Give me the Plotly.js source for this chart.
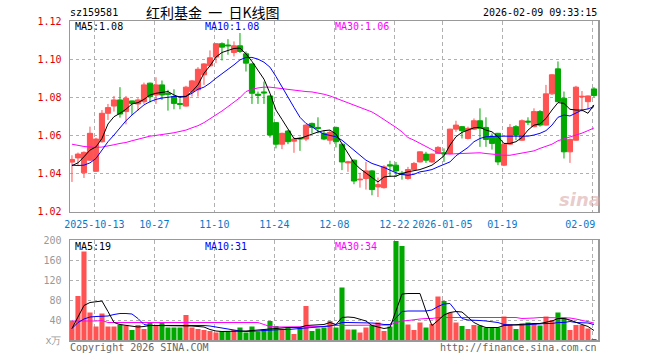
<!DOCTYPE html>
<html>
<head>
<meta charset="utf-8">
<script src="https://cdn.plot.ly/plotly-3.0.1.min.js"></script>
<style>html,body{margin:0;padding:0;background:#fff;}#chart{width:660px;height:360px;}</style>
</head>
<body>
<div id="chart"></div>
<script>
const dates = ['2025-09-29','2025-09-30','2025-10-09','2025-10-10','2025-10-13','2025-10-14','2025-10-15','2025-10-16','2025-10-17','2025-10-20',
'2025-10-21','2025-10-22','2025-10-23','2025-10-24','2025-10-27','2025-10-28','2025-10-29','2025-10-30','2025-10-31','2025-11-03',
'2025-11-04','2025-11-05','2025-11-06','2025-11-07','2025-11-10','2025-11-11','2025-11-12','2025-11-13','2025-11-14','2025-11-17',
'2025-11-18','2025-11-19','2025-11-20','2025-11-21','2025-11-24','2025-11-25','2025-11-26','2025-11-27','2025-11-28','2025-12-01',
'2025-12-02','2025-12-03','2025-12-04','2025-12-05','2025-12-08','2025-12-09','2025-12-10','2025-12-11','2025-12-12','2025-12-15',
'2025-12-16','2025-12-17','2025-12-18','2025-12-19','2025-12-22','2025-12-23','2025-12-24','2025-12-25','2025-12-26','2025-12-29',
'2025-12-30','2025-12-31','2026-01-05','2026-01-06','2026-01-07','2026-01-08','2026-01-09','2026-01-12','2026-01-13','2026-01-14',
'2026-01-15','2026-01-16','2026-01-19','2026-01-20','2026-01-21','2026-01-22','2026-01-23','2026-01-26','2026-01-27','2026-01-28',
'2026-01-29','2026-01-30','2026-02-02','2026-02-03','2026-02-04','2026-02-05','2026-02-06','2026-02-09'];

const open = [1.0460,1.0482,1.0404,1.0470,1.0412,1.0567,1.0716,1.0754,1.0786,1.0725,
1.0781,1.0765,1.0777,1.0874,1.0812,1.0865,1.0821,1.0804,1.0767,1.0754,
1.0830,1.0839,1.0918,1.0965,1.1011,1.1081,1.1074,1.1035,1.1070,1.1028,
1.0975,1.0816,1.0828,1.0807,1.0667,1.0554,1.0623,1.0570,1.0586,1.0581,
1.0663,1.0642,1.0611,1.0575,1.0642,1.0554,1.0456,1.0470,1.0367,1.0374,
1.0414,1.0330,1.0326,1.0446,1.0444,1.0402,1.0374,1.0421,1.0461,1.0502,
1.0461,1.0505,1.0509,1.0505,1.0633,1.0646,1.0584,1.0633,1.0677,1.0642,
1.0593,1.0611,1.0444,1.0554,1.0646,1.0575,1.0675,1.0646,1.0725,1.0654,
1.0818,1.0949,1.0795,1.0514,1.0575,1.0802,1.0777,1.0844];
const high = [1.0496,1.0510,1.0516,1.0646,1.0588,1.0733,1.0765,1.0807,1.0853,1.0807,
1.0782,1.0795,1.0877,1.0877,1.0905,1.0888,1.0839,1.0842,1.0795,1.0860,
1.0891,1.0958,1.0979,1.1046,1.1084,1.1088,1.1105,1.1093,1.1137,1.1040,
1.0979,1.0830,1.0882,1.0809,1.0669,1.0614,1.0628,1.0589,1.0593,1.0658,
1.0667,1.0695,1.0628,1.0628,1.0646,1.0556,1.0467,1.0474,1.0404,1.0461,
1.0418,1.0379,1.0444,1.0467,1.0461,1.0414,1.0435,1.0461,1.0516,1.0514,
1.0504,1.0544,1.0532,1.0635,1.0677,1.0648,1.0646,1.0689,1.0742,1.0695,
1.0611,1.0613,1.0558,1.0660,1.0654,1.0684,1.0695,1.0742,1.0733,1.0865,
1.0921,1.0988,1.0830,1.0584,1.0860,1.0833,1.0809,1.0853];
const low = [1.0356,1.0440,1.0377,1.0467,1.0409,1.0562,1.0681,1.0725,1.0693,1.0658,
1.0707,1.0730,1.0765,1.0772,1.0765,1.0786,1.0730,1.0737,1.0737,1.0751,
1.0804,1.0804,1.0865,1.0958,1.0979,1.0993,1.1023,1.1014,1.1032,1.0935,
1.0765,1.0765,1.0765,1.0589,1.0532,1.0528,1.0554,1.0509,1.0519,1.0570,
1.0611,1.0611,1.0575,1.0553,1.0537,1.0418,1.0409,1.0344,1.0326,1.0316,
1.0286,1.0277,1.0321,1.0382,1.0382,1.0368,1.0368,1.0418,1.0458,1.0456,
1.0456,1.0502,1.0461,1.0502,1.0619,1.0584,1.0579,1.0628,1.0540,1.0540,
1.0526,1.0444,1.0439,1.0549,1.0575,1.0572,1.0654,1.0642,1.0646,1.0651,
1.0812,1.0775,1.0479,1.0456,1.0573,1.0725,1.0737,1.0800];
const close = [1.0474,1.0502,1.0511,1.0611,1.0581,1.0716,1.0746,1.0786,1.0712,1.0795,
1.0768,1.0786,1.0865,1.0804,1.0865,1.0812,1.0816,1.0768,1.0763,1.0853,
1.0886,1.0947,1.0975,1.1007,1.1081,1.1063,1.1070,1.1070,1.1040,1.0979,
1.0821,1.0811,1.0823,1.0602,1.0554,1.0611,1.0567,1.0581,1.0582,1.0654,
1.0642,1.0637,1.0581,1.0616,1.0567,1.0461,1.0461,1.0361,1.0370,1.0414,
1.0316,1.0342,1.0435,1.0440,1.0414,1.0396,1.0421,1.0453,1.0514,1.0470,
1.0502,1.0537,1.0504,1.0633,1.0654,1.0625,1.0637,1.0677,1.0637,1.0579,
1.0558,1.0461,1.0554,1.0642,1.0602,1.0677,1.0670,1.0725,1.0654,1.0818,
1.0918,1.0777,1.0514,1.0579,1.0853,1.0805,1.0807,1.0809];

const ma5 = [1.0442,1.0456,1.0488,1.0523,1.0540,1.0584,1.0660,1.0698,1.0716,1.0737,
1.0765,1.0772,1.0789,1.0812,1.0821,1.0826,1.0830,1.0812,1.0800,1.0804,
1.0830,1.0865,1.0926,1.0965,1.1011,1.1035,1.1046,1.1056,1.1058,1.1028,
1.0988,1.0944,1.0895,1.0821,1.0733,1.0684,1.0632,1.0584,1.0584,1.0596,
1.0607,1.0618,1.0625,1.0628,1.0607,1.0558,1.0509,1.0456,1.0426,1.0404,
1.0382,1.0356,1.0382,1.0386,1.0386,1.0400,1.0409,1.0414,1.0421,1.0432,
1.0444,1.0467,1.0493,1.0549,1.0593,1.0616,1.0628,1.0640,1.0642,1.0628,
1.0619,1.0593,1.0558,1.0558,1.0567,1.0589,1.0628,1.0654,1.0660,1.0689,
1.0733,1.0772,1.0768,1.0737,1.0733,1.0733,1.0716,1.0760];
const ma10 = [1.0444,1.0442,1.0444,1.0456,1.0479,1.0526,1.0567,1.0602,1.0642,1.0677,
1.0707,1.0733,1.0760,1.0777,1.0789,1.0796,1.0800,1.0804,1.0804,1.0805,
1.0821,1.0842,1.0853,1.0874,1.0900,1.0923,1.0944,1.0970,1.0996,1.1009,
1.1009,1.1000,1.0984,1.0958,1.0909,1.0853,1.0804,1.0747,1.0695,1.0663,
1.0646,1.0623,1.0607,1.0600,1.0593,1.0575,1.0549,1.0523,1.0496,1.0470,
1.0453,1.0444,1.0432,1.0418,1.0404,1.0395,1.0391,1.0396,1.0409,1.0414,
1.0421,1.0435,1.0449,1.0461,1.0493,1.0514,1.0537,1.0567,1.0584,1.0593,
1.0596,1.0596,1.0596,1.0596,1.0596,1.0596,1.0596,1.0602,1.0611,1.0625,
1.0654,1.0695,1.0707,1.0702,1.0716,1.0733,1.0739,1.0751];
const ma30 = [1.0554,1.0547,1.0542,1.0539,1.0537,1.0539,1.0544,1.0551,1.0558,1.0563,
1.0572,1.0581,1.0589,1.0596,1.0600,1.0604,1.0609,1.0614,1.0621,1.0628,
1.0640,1.0651,1.0667,1.0686,1.0707,1.0728,1.0751,1.0774,1.0798,1.0830,
1.0842,1.0849,1.0853,1.0853,1.0849,1.0844,1.0840,1.0835,1.0832,1.0830,
1.0828,1.0823,1.0816,1.0807,1.0795,1.0782,1.0772,1.0761,1.0749,1.0737,
1.0723,1.0704,1.0684,1.0663,1.0642,1.0619,1.0589,1.0575,1.0558,1.0540,
1.0523,1.0509,1.0504,1.0502,1.0504,1.0505,1.0507,1.0509,1.0509,1.0505,
1.0502,1.0498,1.0496,1.0496,1.0502,1.0509,1.0512,1.0519,1.0532,1.0544,
1.0554,1.0572,1.0582,1.0589,1.0600,1.0612,1.0625,1.0639];

const volume = [38,88,177,55,27,53,27,27,31,29,
20,30,22,35,30,35,25,25,25,50,
25,22,20,18,15,17,17,20,25,15,
27,17,21,38,28,22,25,12,25,68,
18,23,25,38,25,105,21,21,15,25,
30,35,18,27,198,188,31,20,35,25,
32,87,78,55,35,28,22,30,29,25,
25,25,47,31,22,33,35,33,29,47,
40,55,45,20,30,30,23,2];
const volMa5 = [23,47,69,75,77,78,57,35,31,29,
27,26,27,29,29,29,29,29,29,29,
28,27,26,21,18,17,17,17,17,18,
19,20,22,23,23,24,25,25,25,29,
30,30,31,35,31,45,46,45,42,38,
29,26,23,25,60,92,93,93,93,58,
29,39,50,55,57,56,45,35,29,25,
25,25,29,30,30,31,33,33,33,35,
38,43,43,40,35,31,27,19];
const volMa10 = [23,35,42,46,47,47,48,51,53,53,
52,43,31,29,29,29,29,29,29,30,
30,30,29,28,26,23,21,19,18,17,
17,18,19,20,20,21,21,22,22,23,
24,25,26,28,31,35,35,35,35,35,
34,33,31,31,45,57,58,58,58,58,
60,67,72,73,58,43,40,40,39,38,
36,35,31,30,30,30,31,31,33,33,
33,35,35,37,35,35,34,31];
const volMa30 = [38,38,37,37,38,39,35,35,35,35,
35,35,35,35,35,35,35,35,35,35,
35,35,35,35,35,35,35,35,35,35,
35,35,31,27,26,26,26,26,26,26,
26,26,27,29,29,29,29,29,29,29,
29,29,29,30,35,38,39,41,42,43,
43,45,45,45,45,45,45,45,45,45,
45,45,45,45,45,43,43,44,45,45,
45,45,45,44,42,39,36,34];

const tickDates = ['2025-10-13','2025-10-27','2025-11-10','2025-11-24','2025-12-08','2025-12-22','2026-01-05','2026-01-19','2026-02-09'];
const tickLabels = ['2025-10-13','10-27','11-10','11-24','12-08','12-22','2026-01-05','01-19','02-09\u00a0\u00a0\u00a0\u00a0'];
const priceTicks = [1.02,1.04,1.06,1.08,1.10,1.12];
const volTicks = [0,40,80,120,160,200];
const volTickLabels = ['x万','40','80','120','160','200'];

const RED = '#ff5252', GREEN = '#00a800';
const MONO = 'DejaVu Sans Mono, monospace';
const idx = dates.map((d, i) => i);
const tickvals = tickDates.map(d => dates.indexOf(d) - 0.27);
const volColors = close.map((c, i) => c >= open[i] ? RED : GREEN);

const traces = [
  {type:'candlestick', x:idx, open:open, high:high, low:low, close:close, xaxis:'x', yaxis:'y',
   increasing:{line:{color:RED,width:1}, fillcolor:RED}, decreasing:{line:{color:GREEN,width:1}, fillcolor:GREEN},
   whiskerwidth:0, hoverinfo:'skip', showlegend:false},
  {type:'scatter', mode:'lines', x:idx, y:ma30, line:{color:'#ff00ff', width:1}, xaxis:'x', yaxis:'y', hoverinfo:'skip', showlegend:false},
  {type:'scatter', mode:'lines', x:idx, y:ma10, line:{color:'#0000ff', width:1}, xaxis:'x', yaxis:'y', hoverinfo:'skip', showlegend:false},
  {type:'scatter', mode:'lines', x:idx, y:ma5, line:{color:'#000000', width:1}, xaxis:'x', yaxis:'y', hoverinfo:'skip', showlegend:false},
  {type:'bar', x:idx, y:volume, marker:{color:volColors, line:{width:0}}, xaxis:'x2', yaxis:'y2', hoverinfo:'skip', showlegend:false},
  {type:'scatter', mode:'lines', x:idx, y:volMa30, line:{color:'#ff00ff', width:1}, xaxis:'x2', yaxis:'y2', hoverinfo:'skip', showlegend:false},
  {type:'scatter', mode:'lines', x:idx, y:volMa10, line:{color:'#0000ff', width:1}, xaxis:'x2', yaxis:'y2', hoverinfo:'skip', showlegend:false},
  {type:'scatter', mode:'lines', x:idx, y:volMa5, line:{color:'#000000', width:1}, xaxis:'x2', yaxis:'y2', hoverinfo:'skip', showlegend:false}
];

const L = 70, R = 598, T = 21, B = 340;
const px = x => (x - L) / (R - L);
const py = y => (B - y) / (B - T);
function ann(text, x, y, anchor, color, size, family) {
  return {text:text, x:px(x), y:py(y), xref:'paper', yref:'paper', xanchor:anchor, yanchor:'middle',
          showarrow:false, font:{family:family || MONO, size:size || 10, color:color}, borderpad:0};
}
const last = dates.length - 1;
const annotations = [
  ann('sz159581', 69, 12.5, 'left', '#000'),
  ann('红利基金\u00a0\u00a0一\u00a0\u00a0日K线图', 213, 12.5, 'center', '#000', 14, 'Noto Sans CJK SC'),
  ann('2026-02-09 09:33:15', 598, 12.5, 'right', '#000'),
  ann('MA5:' + ma5[last].toFixed(2), 74, 26.5, 'left', '#000'),
  ann('MA10:' + ma10[last].toFixed(2), 204, 26.5, 'left', '#0000ff'),
  ann('MA30:' + ma30[last].toFixed(2), 334, 26.5, 'left', '#ff00ff'),
  ann('MA5:' + volMa5[last], 74, 246, 'left', '#000'),
  ann('MA10:' + volMa10[last], 204, 246, 'left', '#0000ff'),
  ann('MA30:' + volMa30[last], 334, 246, 'left', '#ff00ff'),
  ann('Copyright 2026 SINA.COM', 69, 347, 'left', '#666'),
  ann('http://finance.sina.com.cn', 598, 347, 'right', '#666'),
  {text:'<b><i>sina</i></b>', x:px(580), y:py(199), xref:'paper', yref:'paper', xanchor:'center', yanchor:'middle',
   showarrow:false, font:{family:'DejaVu Sans, sans-serif', size:18, color:'rgba(215,160,160,0.55)'}}
];

const gridCol = '#b0b0b0';
const layout = {
  width:660, height:360,
  margin:{l:L, r:660 - R, t:T, b:360 - B, pad:0},
  paper_bgcolor:'#fff', plot_bgcolor:'#fff',
  showlegend:false, bargap:0.15, boxgap:0.1, boxgroupgap:0.05,
  xaxis:{domain:[0,1], anchor:'y', range:[-0.33, last + 0.67], type:'linear',
         tickmode:'array', tickvals:tickvals, ticktext:tickLabels, ticks:'', ticklabelstandoff:3,
         tickfont:{family:MONO, size:10, color:'#0a78c8'},
         showgrid:true, gridcolor:gridCol, griddash:'4px,3px', gridwidth:1,
         showline:true, mirror:true, linecolor:'#999', linewidth:1.5, zeroline:false,
         rangeslider:{visible:false}, fixedrange:true},
  xaxis2:{domain:[0,1], anchor:'y2', matches:'x', type:'linear',
          tickmode:'array', tickvals:tickvals, showticklabels:false, ticks:'',
          showgrid:true, gridcolor:gridCol, griddash:'4px,3px', gridwidth:1,
          showline:true, mirror:true, linecolor:'#999', linewidth:1.5, zeroline:false, fixedrange:true},
  yaxis:{domain:[py(211.7), 1], range:[1.02, 1.12], tickmode:'array', tickvals:priceTicks,
         ticktext:priceTicks.map(v => v.toFixed(2)), ticks:'', ticklabelstandoff:5,
         tickfont:{family:MONO, size:10, color:'#e00000'},
         showgrid:true, gridcolor:gridCol, griddash:'dot', gridwidth:1,
         showline:true, mirror:true, linecolor:'#999', linewidth:1.5, zeroline:false, fixedrange:true},
  yaxis2:{domain:[0, py(240)], range:[0, 200], tickmode:'array', tickvals:volTicks, ticktext:volTickLabels,
          ticks:'', ticklabelstandoff:5,
          tickfont:{family:MONO, size:10, color:'#999'},
          showgrid:true, gridcolor:gridCol, griddash:'dot', gridwidth:1,
          showline:true, mirror:true, linecolor:'#999', linewidth:1.5, zeroline:false, fixedrange:true},
  annotations:annotations
};

Plotly.newPlot('chart', traces, layout, {displayModeBar:false, staticPlot:true});
</script>
</body>
</html>
